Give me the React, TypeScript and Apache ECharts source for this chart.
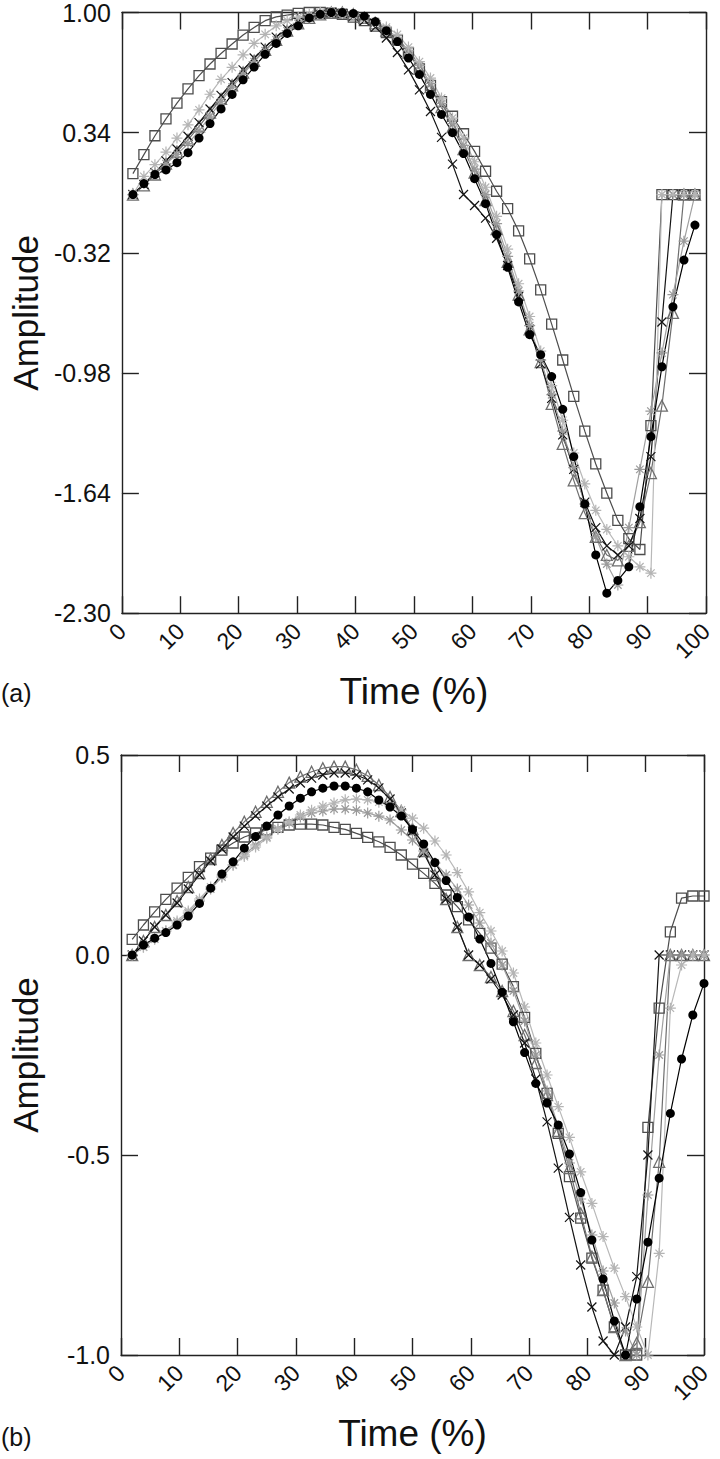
import React, { useEffect, useRef } from "react";
import * as echarts from "echarts";

// Time grids (% of cycle)
const timeA = [1.89,3.77,5.66,7.55,9.43,11.32,13.21,15.09,16.98,18.87,20.75,22.64,24.53,26.42,28.30,30.19,32.08,33.96,35.85,37.74,39.62,41.51,43.40,45.28,47.17,49.06,50.94,52.83,54.72,56.60,58.49,60.38,62.26,64.15,66.04,67.92,69.81,71.70,73.58,75.47,77.36,79.25,81.13,83.02,84.91,86.79,88.68,90.57,92.45,94.34,96.23,98.11];
const timeB = [1.92,3.85,5.77,7.69,9.62,11.54,13.46,15.38,17.31,19.23,21.15,23.08,25.00,26.92,28.85,30.77,32.69,34.62,36.54,38.46,40.38,42.31,44.23,46.15,48.08,50.00,51.92,53.85,55.77,57.69,59.62,61.54,63.46,65.38,67.31,69.23,71.15,73.08,75.00,76.92,78.85,80.77,82.69,84.62,86.54,88.46,90.38,92.31,94.23,96.15,98.08,100.00];

// Panel (a)
const squaresA = [0.115,0.219,0.323,0.416,0.502,0.58,0.653,0.717,0.775,0.827,0.876,0.918,0.955,0.976,0.986,0.995,1.0,1.0,0.997,0.99,0.975,0.955,0.925,0.89,0.85,0.78,0.69,0.60,0.51,0.43,0.334,0.237,0.128,0.018,-0.077,-0.20,-0.353,-0.524,-0.712,-0.909,-1.109,-1.30,-1.48,-1.64,-1.79,-1.89,-1.95,-1.27,0,0,0,0];
const starsA = [0.0,0.10,0.164,0.233,0.31,0.383,0.465,0.551,0.633,0.699,0.767,0.83,0.88,0.927,0.955,0.975,0.99,1.0,1.0,0.995,0.985,0.97,0.95,0.92,0.88,0.81,0.73,0.64,0.53,0.42,0.31,0.18,0.04,-0.12,-0.30,-0.49,-0.67,-0.86,-1.05,-1.24,-1.42,-1.59,-1.735,-1.84,-1.93,-1.99,-2.045,-2.08,0,0,0,0];
const circlesA = [0.0,0.06,0.11,0.135,0.175,0.23,0.31,0.39,0.47,0.55,0.63,0.70,0.77,0.83,0.885,0.927,0.97,0.99,1.0,1.0,0.995,0.98,0.95,0.90,0.84,0.75,0.66,0.55,0.44,0.34,0.225,0.087,-0.05,-0.22,-0.40,-0.59,-0.77,-0.88,-1.0,-1.18,-1.44,-1.70,-1.98,-2.19,-2.12,-2.045,-1.715,-1.33,-0.946,-0.617,-0.36,-0.168];
const crossesA = [0.0,0.055,0.12,0.185,0.25,0.32,0.395,0.47,0.545,0.615,0.685,0.75,0.81,0.865,0.91,0.95,0.975,0.99,1.0,0.995,0.98,0.955,0.92,0.86,0.78,0.685,0.575,0.456,0.314,0.167,0.0,-0.06,-0.13,-0.24,-0.39,-0.56,-0.74,-0.93,-1.12,-1.32,-1.51,-1.69,-1.83,-1.93,-1.98,-1.93,-1.78,-1.44,-0.7,0,0,0];
const trianglesA = [0.0,0.05,0.11,0.17,0.235,0.3,0.375,0.45,0.525,0.6,0.67,0.735,0.795,0.85,0.9,0.94,0.97,0.99,1.0,1.0,0.99,0.97,0.94,0.9,0.85,0.78,0.69,0.59,0.48,0.37,0.25,0.12,-0.03,-0.19,-0.37,-0.55,-0.74,-0.92,-1.15,-1.37,-1.57,-1.75,-1.88,-1.98,-2.01,-1.93,-1.80,-1.53,-1.16,-0.65,0,0];
const stars2A = [0.0,0.06,0.12,0.17,0.22,0.28,0.35,0.43,0.51,0.59,0.66,0.73,0.79,0.85,0.9,0.94,0.97,0.99,1.0,1.0,0.99,0.975,0.95,0.91,0.86,0.79,0.71,0.61,0.5,0.39,0.27,0.14,0.0,-0.16,-0.34,-0.53,-0.72,-0.91,-1.1,-1.3,-1.5,-1.7,-1.88,-2.03,-2.145,-1.83,-1.51,-1.19,-0.87,-0.55,-0.256,0.0];

// Panel (b)
const squaresB = [0.039,0.075,0.108,0.139,0.167,0.194,0.221,0.242,0.262,0.28,0.295,0.305,0.313,0.319,0.325,0.327,0.327,0.325,0.319,0.314,0.304,0.294,0.283,0.269,0.25,0.227,0.204,0.179,0.15,0.121,0.088,0.054,0.017,-0.023,-0.079,-0.156,-0.246,-0.346,-0.446,-0.554,-0.658,-0.758,-0.838,-0.93,-1.0,-1.0,-0.431,-0.133,0.058,0.142,0.1475,0.1475];
const starsB = [0.0,0.02,0.04,0.06,0.085,0.11,0.14,0.17,0.2,0.225,0.246,0.27,0.292,0.315,0.333,0.35,0.362,0.372,0.38,0.388,0.39,0.388,0.382,0.373,0.3625,0.342,0.317,0.285,0.25,0.206,0.158,0.106,0.06,0.01,-0.045,-0.13,-0.22,-0.3,-0.379,-0.456,-0.542,-0.621,-0.704,-0.783,-0.854,-0.93,-1.0,-0.746,-0.133,-0.025,0.0,0.0];
const circlesB = [0.0,0.025,0.042,0.056,0.075,0.0975,0.129,0.167,0.2025,0.233,0.267,0.296,0.3225,0.35,0.3725,0.392,0.408,0.417,0.4225,0.4225,0.417,0.408,0.3875,0.37,0.3475,0.314,0.2775,0.231,0.186,0.144,0.095,0.04,-0.021,-0.093,-0.167,-0.244,-0.321,-0.37,-0.425,-0.4975,-0.594,-0.7125,-0.81,-0.915,-1.0,-0.86,-0.718,-0.558,-0.396,-0.26,-0.15,-0.071];
const crossesB = [0.0,0.035,0.07,0.1,0.13,0.165,0.2,0.235,0.265,0.295,0.322,0.348,0.372,0.395,0.415,0.43,0.442,0.45,0.455,0.455,0.45,0.438,0.418,0.39,0.355,0.31,0.255,0.2,0.14,0.07,0.0,-0.025,-0.06,-0.1,-0.15,-0.22,-0.31,-0.417,-0.533,-0.656,-0.775,-0.88,-0.965,-1.0,-0.93,-0.804,-0.5,0,0,0,0,0];
const trianglesB = [0.0,0.035,0.07,0.1,0.135,0.17,0.205,0.24,0.275,0.305,0.333,0.358,0.383,0.408,0.431,0.446,0.458,0.467,0.471,0.471,0.463,0.448,0.425,0.395,0.36,0.315,0.26,0.2,0.14,0.07,0.0,-0.025,-0.055,-0.09,-0.14,-0.2,-0.27,-0.35,-0.44,-0.533,-0.646,-0.754,-0.838,-0.93,-1.0,-0.97,-0.817,-0.517,0,0,0,0];
const stars2B = [0.0,0.02,0.04,0.06,0.08,0.105,0.135,0.165,0.195,0.225,0.25,0.275,0.295,0.315,0.33,0.345,0.355,0.36,0.365,0.365,0.362,0.355,0.347,0.3375,0.3125,0.2875,0.26,0.23,0.2,0.165,0.125,0.08,0.03,-0.025,-0.09,-0.165,-0.25,-0.34,-0.43,-0.52,-0.61,-0.7,-0.79,-0.87,-0.94,-1.0,-0.6,-0.25,0,0,0,0];

const xTicks = [0, 100, 10];
const yTicksA = [-2.3, 1.0, 0.66];
const yTicksB = [-1.0, 0.5, 0.5];

const FONT = "'Liberation Sans', Arial, sans-serif";
const STAR = "path://M5,0L5,10M0,5L10,5M1.6,1.6L8.4,8.4M1.6,8.4L8.4,1.6";
const CROSS = "path://M0,0L10,10M0,10L10,0";

const styles = [
  { key: "sq", symbol: "rect", size: 10, fill: "rgba(0,0,0,0)", stroke: "#4d4d4d", line: "#4d4d4d", bw: 1.3 },
  { key: "tri", symbol: "triangle", size: 11, fill: "rgba(0,0,0,0)", stroke: "#6e6e6e", line: "#6e6e6e", bw: 1.3 },
  { key: "x", symbol: CROSS, size: 9, fill: "rgba(0,0,0,0)", stroke: "#141414", line: "#141414", bw: 1.2 },
  { key: "st2", symbol: STAR, size: 11, fill: "rgba(0,0,0,0)", stroke: "#9a9a9a", line: "#a0a0a0", bw: 1.2 },
  { key: "st", symbol: STAR, size: 11, fill: "rgba(0,0,0,0)", stroke: "#b4b4b4", line: "#b8b8b8", bw: 1.2 },
  { key: "ci", symbol: "circle", size: 9, fill: "#000", stroke: "#000", line: "#000", bw: 0 },
];

function mk(style: any, times: number[], vals: number[], gi: number) {
  return {
    type: "line",
    xAxisIndex: gi * 2,
    yAxisIndex: gi * 2,
    data: times.map((t, k) => [t, vals[k]]),
    symbol: style.symbol,
    symbolSize: style.size,
    showSymbol: true,
    showAllSymbol: true,
    itemStyle: { color: style.fill, borderColor: style.stroke, borderWidth: style.bw },
    lineStyle: { color: style.line, width: 1.2 },
    emphasis: { disabled: true },
    silent: true,
    z: 2,
  };
}

const axisLine = { show: true, onZero: false, lineStyle: { color: "#222", width: 1.4 } };
const tickIn = { show: true, inside: true, length: 17, lineStyle: { color: "#222", width: 1.4 } };

function xAxes(gi: number) {
  return [
    {
      type: "value", gridIndex: gi, position: "bottom", min: xTicks[0], max: xTicks[1], interval: xTicks[2],
      axisLine, axisTick: tickIn, splitLine: { show: false },
      axisLabel: { rotate: 45, fontSize: 23, color: "#111", fontFamily: FONT, margin: 14 },
      name: "Time (%)", nameLocation: "middle", nameGap: 60,
      nameTextStyle: { fontSize: 37, color: "#111", fontFamily: FONT },
    },
    {
      type: "value", gridIndex: gi, position: "top", min: xTicks[0], max: xTicks[1], interval: xTicks[2],
      axisLine, axisTick: tickIn, splitLine: { show: false }, axisLabel: { show: false },
    },
  ];
}

function yAxes(gi: number, t: number[], dec: number) {
  return [
    {
      type: "value", gridIndex: gi, position: "left", min: t[0], max: t[1], interval: t[2],
      axisLine, axisTick: tickIn, splitLine: { show: false },
      axisLabel: { fontSize: 25, color: "#111", fontFamily: FONT, margin: 11, formatter: (v: number) => v.toFixed(dec) },
      name: "Amplitude", nameLocation: "middle", nameGap: 78, nameRotate: 90,
      nameTextStyle: { fontSize: 35, color: "#111", fontFamily: FONT },
    },
    {
      type: "value", gridIndex: gi, position: "right", min: t[0], max: t[1], interval: t[2],
      axisLine, axisTick: tickIn, splitLine: { show: false }, axisLabel: { show: false },
    },
  ];
}

export default function App() {
  const ref = useRef<HTMLDivElement>(null);
  useEffect(() => {
    if (!ref.current) return;
    const chart = echarts.init(ref.current, undefined, { renderer: "svg" });
    const panelA = [squaresA, trianglesA, crossesA, stars2A, starsA, circlesA];
    const panelB = [squaresB, trianglesB, crossesB, stars2B, starsB, circlesB];
    const series: any[] = [];
    styles.forEach((s, k) => series.push(mk(s, timeA, panelA[k], 0)));
    styles.forEach((s, k) => series.push(mk(s, timeB, panelB[k], 1)));
    chart.setOption({
      animation: false,
      backgroundColor: "#fff",
      textStyle: { fontFamily: FONT },
      grid: [
        { left: 104.5, right: 14, top: 10.7, height: 602.5 },
        { left: 104, right: 16, top: 755, height: 600 },
      ],
      xAxis: [...xAxes(0), ...xAxes(1)],
      yAxis: [...yAxes(0, yTicksA, 2), ...yAxes(1, yTicksB, 1)],
      series,
      graphic: [
        { type: "text", left: 1, top: 680, style: { text: "(a)", fontSize: 25, fill: "#111", fontFamily: FONT } },
        { type: "text", left: 1, top: 1424, style: { text: "(b)", fontSize: 25, fill: "#111", fontFamily: FONT } },
      ],
    });
    return () => chart.dispose();
  }, []);
  return <div ref={ref} style={{ position: "absolute", left: 0, top: 0, width: 720, height: 1459 }} />;
}
